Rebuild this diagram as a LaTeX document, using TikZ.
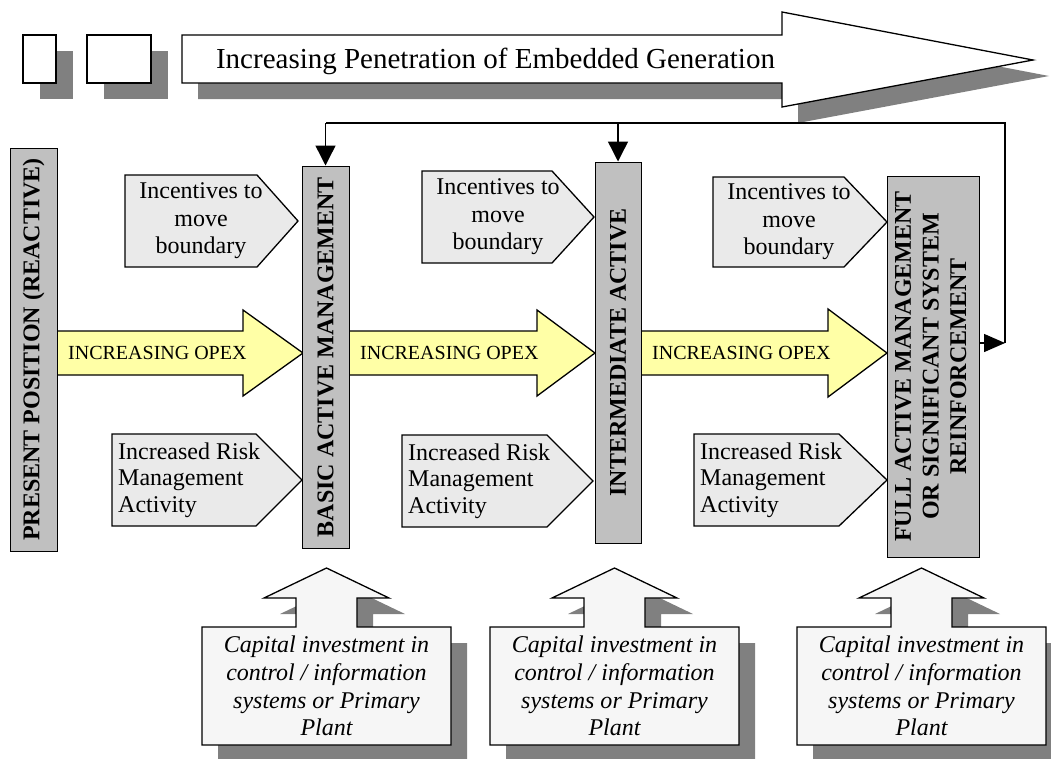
\documentclass[tikz,border=0pt]{standalone}
\usepackage{fontspec}
\setmainfont{Liberation Serif}
\usetikzlibrary{arrows.meta}
\definecolor{shadowgray}{RGB}{128,128,128}
\definecolor{bargray}{RGB}{192,192,192}
\definecolor{pentgray}{RGB}{234,234,234}
\definecolor{opexyellow}{RGB}{255,255,166}
\definecolor{callfill}{RGB}{246,246,246}
\begin{document}
\begin{tikzpicture}[x=1pt,y=-1pt,
 shadow/.style={fill=shadowgray, draw=none},
 outline/.style={draw=black, line width=1.3pt, line join=miter},
 barbox/.style={draw=black, line width=1pt, fill=bargray, inner sep=0pt,
   font=\fontsize{24}{27.6}\selectfont\bfseries, align=center},
 pentbox/.style={outline, fill=pentgray},
 opex/.style={outline, fill=opexyellow},
 callbox/.style={outline, fill=callfill},
 ptext/.style={font=\fontsize{24}{27.6}\selectfont, align=center, inner sep=0pt},
 rtext/.style={font=\fontsize{24}{26.5}\selectfont, align=left, inner sep=0pt, anchor=west},
 otext/.style={font=\fontsize{20}{24}\selectfont, inner sep=0pt, anchor=west},
 ctext/.style={font=\fontsize{24}{27.7}\selectfont\itshape, align=center, inner sep=0pt},
 fb/.style={draw=black, line width=1.4pt},
 fbtip/.style={-{Triangle[length=20pt,width=20pt]}},
]
\clip (0,0) rectangle (1051,758);
\fill[white] (0,0) rectangle (1051,758);

% ---- top row
\fill[shadow] (40,51) rectangle (73,99);
\fill[shadow] (104,51) rectangle (168,99);
\draw[outline, fill=white] (23,35) rectangle (56,83);
\draw[outline, fill=white] (87,35) rectangle (151,83);
\fill[shadow] (198,51) -- (798,51) -- (798,28) -- (1049,76) -- (798,123) -- (798,99) -- (198,99) -- cycle;
\draw[outline, fill=white] (182,35) -- (782,35) -- (782,12) -- (1033,60) -- (782,107) -- (782,83) -- (182,83) -- cycle;
\node[font=\fontsize{29}{33}\selectfont, anchor=base, inner sep=0pt] (title) at (495.5,68) {Increasing Penetration of Embedded Generation};

% ---- OPEX arrows
\draw[opex] (57,331) -- (243,331) -- (243,310) -- (303,353) -- (243,396) -- (243,375) -- (57,375) -- cycle;
\draw[opex] (349,331) -- (537,331) -- (537,310) -- (595,353) -- (537,396) -- (537,375) -- (349,375) -- cycle;
\draw[opex] (641,331) -- (828,331) -- (828,309) -- (887,353) -- (828,397) -- (828,375) -- (641,375) -- cycle;
\node[otext] (o1) at (68,353) {INCREASING OPEX};
\node[otext] (o2) at (360,353) {INCREASING OPEX};
\node[otext] (o3) at (652,353) {INCREASING OPEX};

% ---- bars
\node[barbox, minimum width=47pt, minimum height=403pt] (b1) at (33.5,349.5) {\rotatebox{90}{PRESENT POSITION (REACTIVE)}};
\node[barbox, minimum width=47pt, minimum height=382pt] (b2) at (325.5,357) {\rotatebox{90}{BASIC ACTIVE MANAGEMENT}};
\node[barbox, minimum width=46pt, minimum height=381pt] (b3) at (618,352.5) {\rotatebox{90}{INTERMEDIATE ACTIVE}};
\node[barbox, minimum width=92pt, minimum height=381pt] (b4) at (933,366.5) {\rotatebox{90}{\begin{tabular}{@{}c@{}}FULL ACTIVE MANAGEMENT\\OR SIGNIFICANT SYSTEM\\REINFORCEMENT\end{tabular}}};

% ---- incentives pentagons
\draw[pentbox] (125,175) -- (257,175) -- (298,221) -- (257,267) -- (125,267) -- cycle;
\draw[pentbox] (422,171) -- (552,171) -- (594,217) -- (552,263) -- (422,263) -- cycle;
\draw[pentbox] (713,177) -- (844,177) -- (887,222) -- (844,267) -- (713,267) -- cycle;
\node[ptext] (i1) at (201,221) {Incentives to\\move\\boundary};
\node[ptext] (i2) at (498,217) {Incentives to\\move\\boundary};
\node[ptext] (i3) at (789,222) {Incentives to\\move\\boundary};

% ---- risk pentagons
\draw[pentbox] (112,434) -- (256,434) -- (302,480) -- (256,526) -- (112,526) -- cycle;
\draw[pentbox] (402,435) -- (547,435) -- (593,481) -- (547,527) -- (402,527) -- cycle;
\draw[pentbox] (694,434) -- (839,434) -- (887,480) -- (839,526) -- (694,526) -- cycle;
\node[rtext] (r1) at (118,480) {Increased Risk\\Management\\Activity};
\node[rtext] (r2) at (408,481) {Increased Risk\\Management\\Activity};
\node[rtext] (r3) at (700,480) {Increased Risk\\Management\\Activity};

% ---- feedback connector
\coordinate (fbR) at (1005,343);
\coordinate (fbT) at (1005,123);
\draw[fb, -{Triangle[length=21pt,width=18pt]}] (b4.east |- fbR) -- (fbR);
\draw[fb] (fbR) -- (fbT) -- (b2.north |- fbT);
\draw[fb, fbtip] (b2.north |- fbT) -- (b2.north);
\draw[fb, fbtip] (b3.north |- fbT) -- (b3.north);

% ---- capital investment callouts
\foreach \cx/\nm in {326.5/c1, 614.5/c2, 921.5/c3} {
  \fill[shadow, shift={(\cx+16,16)}] (-124.5,627) -- (-30.5,627) -- (-30.5,598) -- (-62.5,598) -- (0,568) -- (62.5,598) -- (30.5,598) -- (30.5,627) -- (124.5,627) -- (124.5,745) -- (-124.5,745) -- cycle;
  \draw[callbox, shift={(\cx,0)}] (-124.5,627) -- (-30.5,627) -- (-30.5,598) -- (-62.5,598) -- (0,568) -- (62.5,598) -- (30.5,598) -- (30.5,627) -- (124.5,627) -- (124.5,745) -- (-124.5,745) -- cycle;
  \node[ctext] (\nm) at (\cx,686) {Capital investment in\\control / information\\systems or Primary\\Plant};
}
\end{tikzpicture}
\end{document}
